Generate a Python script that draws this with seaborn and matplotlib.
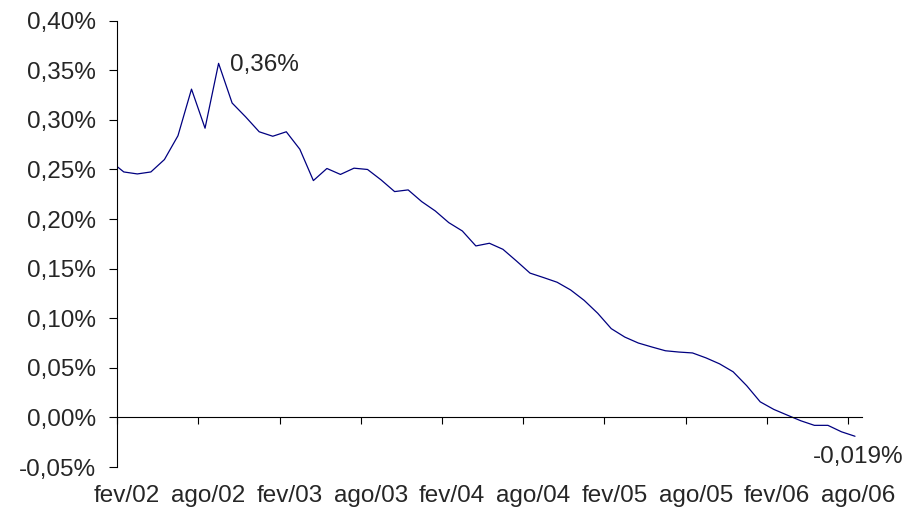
import matplotlib
matplotlib.use("Agg")
import matplotlib.pyplot as plt
import seaborn as sns
import pandas as pd
from matplotlib.ticker import FuncFormatter

# meses jan/02 .. ago/06 (jan/02 fica fora da area, cortado no eixo)
meses = pd.date_range("2002-01-01", "2006-08-01", freq="MS")
nomes = ["jan", "fev", "mar", "abr", "mai", "jun", "jul", "ago", "set", "out", "nov", "dez"]
rotulos = [f"{nomes[m.month - 1]}/{m.strftime('%y')}" for m in meses]

# valores em %
valores = [
    0.2585, 0.2475, 0.2455, 0.2475, 0.260, 0.284, 0.331, 0.2916, 0.357, 0.317,
    0.303, 0.288, 0.2835, 0.288, 0.2704, 0.2388, 0.251, 0.245, 0.2513, 0.250,
    0.2395, 0.2277, 0.2294, 0.2176, 0.2082, 0.1964, 0.188, 0.1729, 0.1756, 0.1695,
    0.1577, 0.1455, 0.141, 0.1363, 0.1285, 0.118, 0.105, 0.0895, 0.081, 0.075,
    0.071, 0.0672, 0.0659, 0.065, 0.060, 0.054, 0.046, 0.032, 0.0157, 0.0081,
    0.0023, -0.0034, -0.008, -0.008, -0.0145, -0.019,
]

df = pd.DataFrame({"pos": range(len(valores)), "valor": valores, "mes": rotulos})

sns.set_style("white")
plt.rcParams["font.family"] = ["Liberation Sans", "DejaVu Sans"]
fs = 17.5

fig = plt.figure(figsize=(9.1, 5.15), dpi=100)
ax = fig.add_axes([0.1286, 0.0932, 0.947 - 0.1286, 0.9598 - 0.0932])

sns.lineplot(data=df, x="pos", y="valor", color="#000080", linewidth=0.9, ax=ax)

ax.set_xlim(0.5, len(valores) - 0.5)
ax.set_ylim(-0.05, 0.40)

# eixo y
ax.set_yticks([i * 0.05 for i in range(-1, 9)])
ax.yaxis.set_major_formatter(FuncFormatter(lambda v, p: f"{v:.2f}%".replace(".", ",")))
ax.tick_params(axis="y", direction="out", length=6, width=0.8, color="black",
               pad=9, labelsize=fs, left=True)

# eixo x cruzando no zero
ax.spines["bottom"].set_position(("data", 0))
ax.spines["top"].set_visible(False)
ax.spines["right"].set_visible(False)
for s in ["left", "bottom"]:
    ax.spines[s].set_color("black")
    ax.spines[s].set_linewidth(0.8)

pos_ticks = [0.5 + 6 * k for k in range(10)]
ax.set_xticks(pos_ticks)
ax.set_xticklabels([])
pos_rot = [1 + 6 * k for k in range(10)]
ax.set_xticks([p + 0.25 for p in pos_rot], [rotulos[p] for p in pos_rot], minor=True)
ax.tick_params(axis="x", which="major", direction="out", length=5, width=0.8,
               color="black", bottom=True)
ax.tick_params(axis="x", which="minor", length=0, pad=49, labelsize=fs)

ax.set_xlabel("")
ax.set_ylabel("")

# rotulos de pico e ultimo valor
i_max = valores.index(max(valores))
ax.annotate("0,36%", (i_max, valores[i_max]), xytext=(8, -1), textcoords="offset points",
            ha="left", va="center", fontsize=fs)
ax.annotate("-0,019%", (len(valores) - 1, valores[-1]), xytext=(2, -7),
            textcoords="offset points", ha="center", va="top", fontsize=fs)

fig.savefig("out.png", dpi=100)
